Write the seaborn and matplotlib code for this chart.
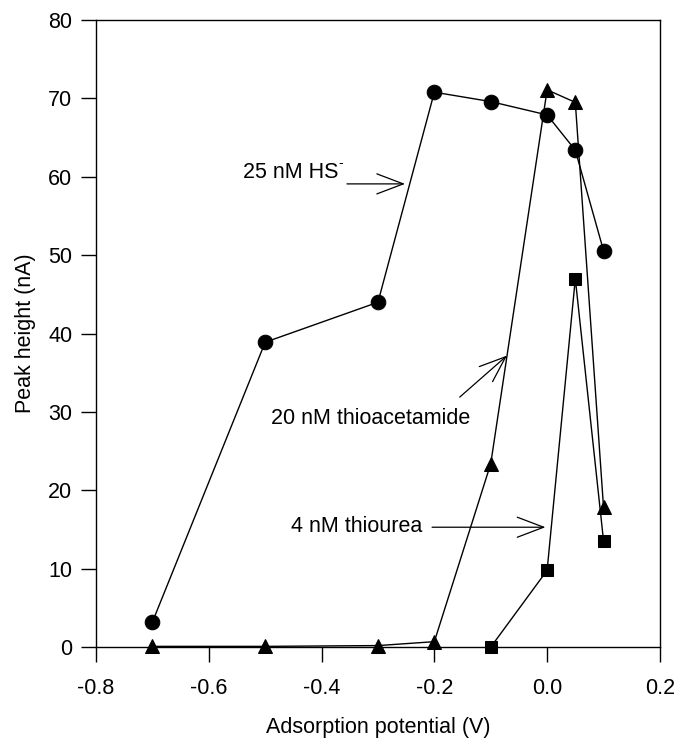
import matplotlib
matplotlib.use("Agg")
import matplotlib.pyplot as plt
import seaborn as sns
import pandas as pd

# Peak height (nA) vs adsorption potential (V)
hs_x = [-0.7, -0.5, -0.3, -0.2, -0.1, 0.0, 0.05, 0.1]
hs_y = [3.2, 38.9, 44.0, 70.8, 69.6, 67.9, 63.4, 50.6]

taa_x = [-0.7, -0.5, -0.3, -0.2, -0.1, 0.0, 0.05, 0.1]
taa_y = [0.1, 0.1, 0.2, 0.7, 23.4, 71.1, 69.5, 17.9]

tu_x = [-0.1, 0.0, 0.05, 0.1]
tu_y = [0.0, 9.8, 47.0, 13.6]

x_ticks = [-0.8, -0.6, -0.4, -0.2, 0.0, 0.2]
y_ticks = [0, 10, 20, 30, 40, 50, 60, 70, 80]

sns.set_theme(style="ticks")
plt.rcParams["font.family"] = ["Liberation Sans", "DejaVu Sans"]

fig = plt.figure(figsize=(6.81, 7.43), dpi=100)
ax = fig.add_axes([0.141, 0.129, 0.828, 0.844])

series = [
    (hs_x, hs_y, "o", 10.5),
    (taa_x, taa_y, "^", 10.5),
    (tu_x, tu_y, "s", 9.0),
]
for xs, ys, mk, ms in series:
    df = pd.DataFrame({"x": xs, "y": ys})
    sns.lineplot(data=df, x="x", y="y", ax=ax, color="black", linewidth=1.0,
                 marker=mk, markersize=ms, markeredgecolor="black",
                 markerfacecolor="black", sort=False, legend=False,
                 errorbar=None, clip_on=False, zorder=3)

ax.set_xlim(-0.8, 0.2)
ax.set_ylim(0, 80)
ax.set_xticks(x_ticks)
ax.set_xticklabels([f"{t:.1f}" for t in x_ticks])
ax.set_yticks(y_ticks)
ax.tick_params(axis="both", direction="out", length=11, width=1.0,
               color="black", labelsize=15.5, labelcolor="black", pad=6)
ax.tick_params(axis="x", pad=11)
for s in ax.spines.values():
    s.set_color("black")
    s.set_linewidth(1.0)
    s.set_visible(True)

ax.set_xlabel("Adsorption potential (V)", fontsize=15.5, color="black", labelpad=13)
ax.set_ylabel("Peak height (nA)", fontsize=15.5, color="black", labelpad=9)

arrow = dict(arrowstyle="->,head_length=1.0,head_width=0.38",
             mutation_scale=19, color="black", lw=0.9, shrinkA=0, shrinkB=0)

ax.annotate("", xy=(-0.252, 59.1), xytext=(-0.355, 59.1), arrowprops=arrow)
ax.text(-0.539, 60.6, "25 nM HS", fontsize=15.5, color="black",
        ha="left", va="center")
ax.annotate("-", xy=(-0.539, 60.6), xytext=(68.5, 6.5), textcoords="offset points",
            fontsize=10, color="black", ha="left", va="center")

ax.annotate("", xy=(-0.071, 37.2), xytext=(-0.155, 31.9), arrowprops=arrow)
ax.text(-0.489, 29.2, "20 nM thioacetamide", fontsize=15.5, color="black",
        ha="left", va="center")

ax.annotate("", xy=(-0.003, 15.3), xytext=(-0.204, 15.3), arrowprops=arrow)
ax.text(-0.454, 15.4, "4 nM thiourea", fontsize=15.5, color="black",
        ha="left", va="center")

fig.savefig("out.png", dpi=100, facecolor="white")
